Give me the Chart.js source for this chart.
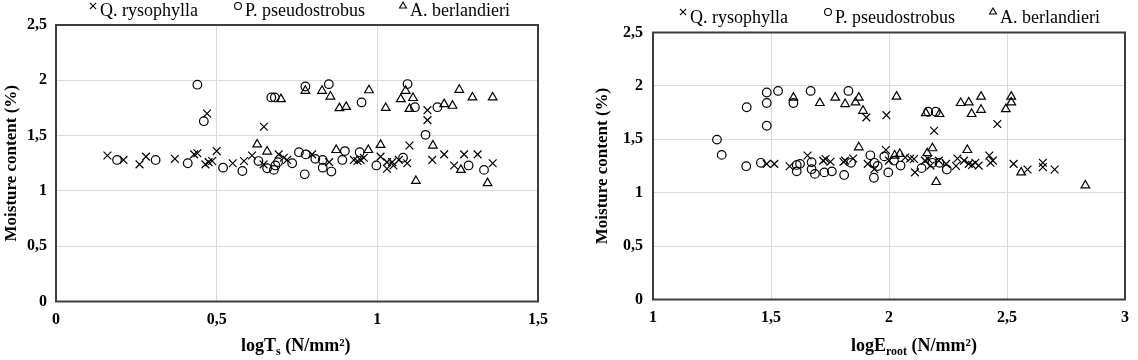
<!DOCTYPE html>
<html><head><meta charset="utf-8">
<script src="https://cdn.jsdelivr.net/npm/chart.js@4"></script>
<style>
body{margin:0;background:#fff;width:1138px;height:360px;overflow:hidden;position:relative}
#w1{position:absolute;left:0;top:0;width:560px;height:360px}
#w2{position:absolute;left:560px;top:0;width:578px;height:360px}
</style></head><body>
<div id="w1"><canvas id="c1"></canvas></div>
<div id="w2"><canvas id="c2"></canvas></div>
<script>
const seriesNames = ['Q. rysophylla', 'P. pseudostrobus', 'A. berlandieri'];
const yTitle = 'Moisture content (%)';
const xTitle1 = ['logT', 's', ' (N/mm²)'];
const xTitle2 = ['logE', 'root', ' (N/mm²)'];

// Left chart: logTs vs moisture content
const tsQ = [[0.16,1.32],[0.21,1.28],[0.26,1.24],[0.28,1.31],[0.37,1.29],[0.43,1.33],[0.44,1.34],[0.47,1.70],[0.465,1.24],[0.475,1.26],[0.486,1.27],[0.50,1.36],[0.55,1.25],[0.585,1.27],[0.61,1.32],[0.647,1.58],[0.646,1.24],[0.693,1.33],[0.709,1.30],[0.719,1.28],[0.797,1.33],[0.85,1.26],[0.927,1.28],[0.938,1.27],[0.948,1.28],[0.958,1.30],[1.01,1.31],[1.03,1.26],[1.03,1.20],[1.046,1.26],[1.05,1.23],[1.067,1.28],[1.093,1.25],[1.10,1.41],[1.156,1.73],[1.156,1.64],[1.171,1.28],[1.208,1.33],[1.239,1.23],[1.27,1.33],[1.312,1.33],[1.359,1.25]];
const tsP = [[0.19,1.28],[0.31,1.28],[0.41,1.25],[0.44,1.96],[0.46,1.63],[0.52,1.21],[0.58,1.18],[0.63,1.27],[0.657,1.205],[0.678,1.19],[0.683,1.23],[0.691,1.26],[0.67,1.845],[0.681,1.845],[0.735,1.25],[0.756,1.35],[0.774,1.15],[0.777,1.33],[0.776,1.944],[0.807,1.29],[0.83,1.28],[0.83,1.21],[0.849,1.965],[0.857,1.175],[0.891,1.28],[0.899,1.36],[0.945,1.35],[0.951,1.80],[0.997,1.23],[1.08,1.30],[1.094,1.966],[1.117,1.757],[1.15,1.507],[1.187,1.757],[1.284,1.23],[1.332,1.19]];
const tsA = [[0.626,1.42],[0.657,1.356],[0.70,1.83],[0.776,1.905],[0.828,1.905],[0.854,1.853],[0.872,1.37],[0.882,1.748],[0.903,1.76],[0.972,1.37],[0.974,1.91],[1.01,1.416],[1.026,1.75],[1.073,1.83],[1.088,1.905],[1.10,1.742],[1.111,1.84],[1.12,1.09],[1.173,1.41],[1.208,1.785],[1.234,1.77],[1.255,1.914],[1.26,1.19],[1.296,1.845],[1.343,1.07],[1.359,1.845]];

// Right chart: logEroot vs moisture content
const erQ = [[1.482,1.27],[1.514,1.27],[1.579,1.248],[1.655,1.348],[1.721,1.30],[1.731,1.315],[1.752,1.29],[1.807,1.29],[1.814,1.30],[1.848,1.32],[1.904,1.705],[1.91,1.27],[1.938,1.22],[1.987,1.40],[1.989,1.726],[2.0,1.30],[2.069,1.33],[2.09,1.32],[2.106,1.316],[2.11,1.19],[2.152,1.30],[2.166,1.316],[2.176,1.254],[2.191,1.58],[2.211,1.30],[2.242,1.27],[2.284,1.25],[2.29,1.32],[2.318,1.30],[2.338,1.27],[2.352,1.26],[2.366,1.28],[2.38,1.254],[2.425,1.348],[2.43,1.28],[2.44,1.30],[2.459,1.643],[2.528,1.27],[2.587,1.217],[2.652,1.28],[2.652,1.24],[2.702,1.217]];
const erP = [[1.271,1.497],[1.291,1.354],[1.397,1.80],[1.395,1.248],[1.457,1.28],[1.482,1.938],[1.482,1.84],[1.482,1.627],[1.530,1.953],[1.595,1.84],[1.609,1.26],[1.623,1.27],[1.609,1.20],[1.668,1.953],[1.672,1.285],[1.672,1.22],[1.686,1.176],[1.726,1.19],[1.758,1.20],[1.81,1.166],[1.828,1.953],[1.839,1.28],[1.921,1.35],[1.938,1.28],[1.952,1.25],[1.936,1.14],[1.98,1.34],[1.997,1.19],[2.021,1.30],[2.049,1.254],[2.138,1.23],[2.166,1.758],[2.198,1.758],[2.184,1.28],[2.214,1.28],[2.245,1.217]];
const erA = [[1.595,1.89],[1.707,1.84],[1.772,1.89],[1.814,1.83],[1.858,1.845],[1.872,1.89],[1.872,1.425],[1.89,1.767],[2.024,1.348],[2.032,1.90],[2.046,1.363],[2.156,1.745],[2.162,1.37],[2.184,1.416],[2.2,1.10],[2.214,1.737],[2.304,1.84],[2.332,1.40],[2.338,1.845],[2.35,1.737],[2.39,1.90],[2.39,1.776],[2.495,1.783],[2.518,1.90],[2.518,1.845],[2.56,1.19],[2.832,1.068]];

const pointStyles = ['crossRot', 'circle', 'triangle'];
const pointRadii = [5.5, 4.3, 5];
const INK = '#000';
const fmt = v => String(v).replace('.', ',');

function makeChart(id, sets, o) {
  const framePlugin = {
    id: 'frame',
    beforeDatasetsDraw(chart) {
      const a = chart.chartArea, ctx = chart.ctx;
      ctx.save();
      ctx.strokeStyle = '#3c3c3c';
      ctx.lineWidth = 2;
      ctx.strokeRect(a.left, a.top, a.right - a.left, a.bottom - a.top);
      ctx.restore();
    }
  };
  const textPlugin = {
    id: 'texts',
    afterDraw(chart) {
      const ctx = chart.ctx, a = chart.chartArea;
      ctx.save();
      // legend
      ctx.fillStyle = INK;
      ctx.font = '18px "Liberation Serif"';
      ctx.textBaseline = 'alphabetic';
      ctx.textAlign = 'left';
      seriesNames.forEach((name, i) => {
        ctx.save();
        ctx.strokeStyle = INK;
        ctx.fillStyle = 'rgba(0,0,0,0)';
        ctx.lineWidth = 1.1;
        Chart.helpers.drawPoint(ctx, {pointStyle: pointStyles[i], radius: pointRadii[i] * 0.8, borderWidth: 1.1, rotation: 0}, o.legX[i], o.legMY);
        ctx.restore();
        ctx.fillText(name, o.legX[i] + 7, o.legTY);
      });
      // y title
      ctx.save();
      ctx.font = 'bold 17px "Liberation Serif"';
      ctx.textAlign = 'center';
      ctx.textBaseline = 'middle';
      ctx.translate(o.yTitleX, (a.top + a.bottom) / 2);
      ctx.rotate(-Math.PI / 2);
      ctx.fillText(yTitle, 0, 0);
      ctx.restore();
      // x title with subscript
      let x = o.xTitleX;
      const by = o.xTitleY;
      ctx.textAlign = 'left';
      ctx.font = 'bold 18px "Liberation Serif"';
      ctx.fillText(o.xTitle[0], x, by); x += ctx.measureText(o.xTitle[0]).width;
      ctx.font = 'bold 12px "Liberation Serif"';
      ctx.fillText(o.xTitle[1], x, by + 4); x += ctx.measureText(o.xTitle[1]).width;
      ctx.font = 'bold 18px "Liberation Serif"';
      ctx.fillText(o.xTitle[2], x, by);
      ctx.restore();
    }
  };
  const tickFont = {family: 'Liberation Serif', size: 16, weight: 'bold'};
  return new Chart(document.getElementById(id), {
    type: 'scatter',
    data: {
      datasets: sets.map((d, i) => ({
        label: seriesNames[i],
        data: d.map(p => ({x: p[0], y: p[1]})),
        pointStyle: pointStyles[i],
        pointRadius: pointRadii[i],
        pointHoverRadius: pointRadii[i],
        borderColor: INK,
        backgroundColor: 'rgba(0,0,0,0)',
        pointBorderWidth: 1.2,
        borderWidth: 1.2
      }))
    },
    options: {
      responsive: true, maintainAspectRatio: false, animation: false,
      events: [],
      layout: {padding: {left: 0, right: o.padR, top: o.padT, bottom: o.padB}},
      plugins: {legend: {display: false}, tooltip: {enabled: false}},
      scales: {
        x: {
          type: 'linear', min: o.xmin, max: o.xmax,
          ticks: {stepSize: 0.5, callback: fmt, font: tickFont, color: INK, padding: 9, maxRotation: 0, autoSkip: false},
          grid: {color: '#d9d9d9', drawTicks: false, lineWidth: 1},
          border: {display: false},
          afterFit: s => { s.height = 30; }
        },
        y: {
          min: 0, max: 2.5,
          ticks: {stepSize: 0.5, callback: fmt, font: tickFont, color: INK, padding: o.yPad},
          grid: {color: '#d9d9d9', drawTicks: false, lineWidth: 1},
          border: {display: false},
          afterFit: s => { s.width = o.yW; }
        }
      }
    },
    plugins: [framePlugin, textPlugin]
  });
}

makeChart('c1', [tsQ, tsP, tsA], {
  xmin: 0, xmax: 1.5, padR: 22, padT: 25, padB: 28.5, yW: 56, yPad: 9,
  legX: [93, 238, 403], legMY: 6, legTY: 16,
  yTitleX: 12, xTitle: xTitle1, xTitleX: 241, xTitleY: 351
});
makeChart('c2', [erQ, erP, erA], {
  xmin: 1, xmax: 3, padR: 4, padT: 32.5, padB: 30.5, yW: 93, yPad: 10,
  legX: [123, 268, 433], legMY: 12, legTY: 22.5,
  yTitleX: 43, xTitle: xTitle2, xTitleX: 291, xTitleY: 351
});
</script>
</body></html>
